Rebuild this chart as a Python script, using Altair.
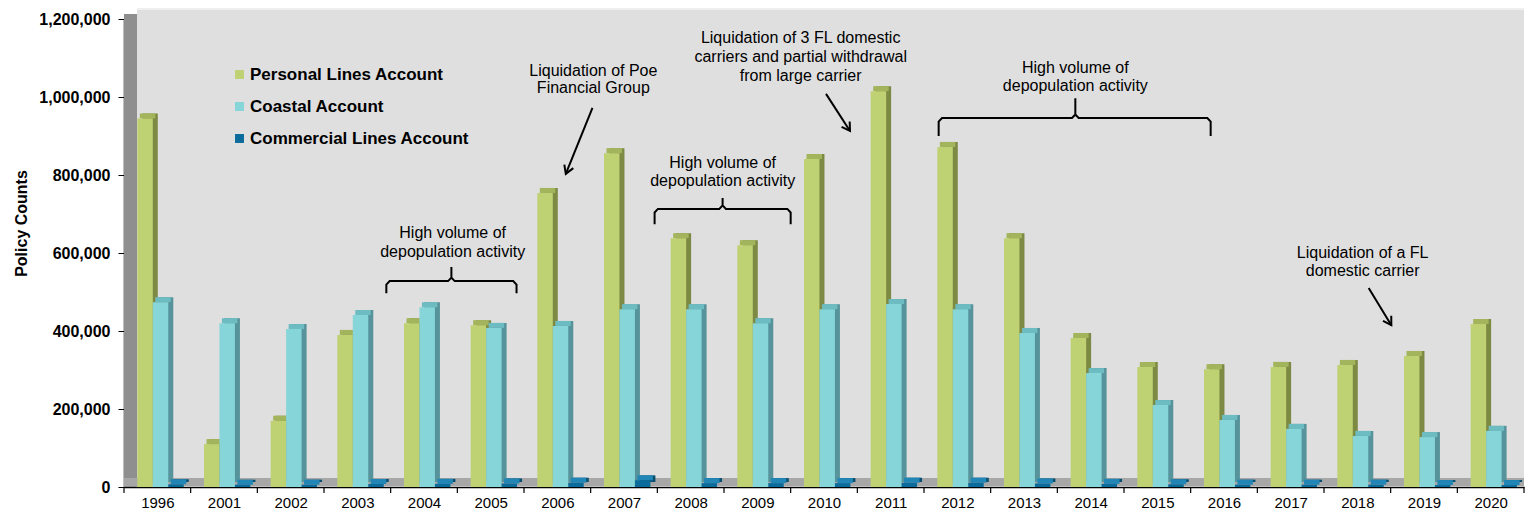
import json
import math
import altair as alt
import pandas as pd

FONT = "Liberation Sans"

# ---------------- data ----------------
years = ["1996", "2001", "2002", "2003", "2004", "2005", "2006", "2007", "2008", "2009",
         "2010", "2011", "2012", "2013", "2014", "2015", "2016", "2017", "2018", "2019", "2020"]
series = ["Personal Lines Account", "Coastal Account", "Commercial Lines Account"]
personal = [945000, 110000, 170000, 390000, 420000, 415000, 754000, 856000, 638000, 620000,
            841000, 1015000, 872000, 638000, 382000, 308000, 302000, 308000, 313000, 336000, 418000]
coastal = [474000, 420000, 405000, 441000, 461000, 408000, 413000, 456000, 456000, 420000,
           456000, 469000, 456000, 395000, 292000, 210000, 172000, 149000, 131000, 128000, 144000]
commercial = [7000, 6000, 6000, 8000, 8000, 9000, 11000, 17000, 10000, 10000,
              10000, 11000, 11000, 9000, 8000, 7000, 6000, 6000, 6000, 5000, 5000]
y_ticks = [0, 200000, 400000, 600000, 800000, 1000000, 1200000]

# annotation text lines: (x in category units, y value, text)
note_x = [4.93, 4.93, 7.04, 7.04, 8.98, 8.98, 10.15, 10.15, 10.15, 14.27, 14.27, 18.58, 18.58]
note_y = [651000, 603000, 1067000, 1023000, 831000, 785000, 1151000, 1103000, 1054000,
          1074000, 1028000, 600000, 554000]
note_text = ["High volume of", "depopulation activity",
             "Liquidation of Poe", "Financial Group",
             "High volume of", "depopulation activity",
             "Liquidation of 3 FL domestic", "carriers and partial withdrawal", "from large carrier",
             "High volume of", "depopulation activity",
             "Liquidation of a FL", "domestic carrier"]

# braces: left, centre, right (category units), line level, hook end, tip
brace_left = [3.935, 7.959, 12.22]
brace_center = [4.911, 8.979, 14.27]
brace_right = [5.888, 10.0, 16.30]
brace_line = [528000, 713000, 946000]
brace_hook = [497000, 674000, 900000]
brace_tip = [564000, 741000, 997000]

# arrows: start and end points
arrow_x0 = [7.027, 10.53, 18.67]
arrow_y0 = [972000, 1008000, 510000]
arrow_x1 = [6.627, 10.89, 19.01]
arrow_y1 = [803000, 913000, 415000]

# ---------------- styling ----------------
front_colors = ["#bfd273", "#85d5d9", "#0b6c9c"]
side_colors = ["#7d8a44", "#56939a", "#064d70"]
top_colors = ["#a3b55c", "#6dbcc1", "#2186b5"]

W, H = 1400, 468
N = len(years)
YMAX = 1200000
BW = 0.232      # bar width in category units
G0 = 0.20       # left of group inside category

rows = []
for k, vals in enumerate([personal, coastal, commercial]):
    for i, v in enumerate(vals):
        rows.append({"i": i, "k": k, "year": years[i], "series": series[k], "value": v,
                     "side": side_colors[k], "top": top_colors[k]})
df = pd.DataFrame(rows)

xscale = alt.Scale(domain=[0, N], nice=False, zero=False)
yscale = alt.Scale(domain=[0, YMAX], nice=False)

label_expr = json.dumps(years) + "[floor(datum.value)]"

xaxis = alt.Axis(values=[i + 0.5 for i in range(N)], labelExpr=label_expr,
                 ticks=False, grid=False, title=None, domainColor="#000000",
                 domainWidth=1.5, labelFont=FONT, labelFontSize=15,
                 labelColor="#000000", labelPadding=8, labelOverlap=False,
                 labelFlush=False)
yaxis = alt.Axis(values=y_ticks, format=",d", grid=False, title="Policy Counts",
                 titleFont=FONT, titleFontSize=16, titleFontWeight="bold",
                 titleColor="#000000", titlePadding=9, titleY=204,
                 labelFont=FONT, labelFontSize=16, labelFontWeight="bold",
                 labelColor="#000000", labelPadding=8, tickSize=6,
                 tickColor="#000000", domainColor="#000000", domainWidth=1.5)


def X(field):
    return alt.X(field, scale=xscale, axis=xaxis)


def Y(field):
    return alt.Y(field, scale=yscale, axis=yaxis)


base = alt.Chart(df).transform_calculate(
    x0=f"datum.i + {G0} + datum.k * {BW}",
    x1=f"datum.i + {G0} + datum.k * {BW} + {BW}",
)

one = pd.DataFrame({"a": [0]})
panel = alt.Chart(one).mark_rect(color="#dfdfdf").encode(
    x=alt.value(13), x2=alt.value(W), y=alt.value(-11), y2=alt.value(H - 8))
panel_edge = alt.Chart(one).mark_rule(color="#f4f4f4", strokeWidth=1.5).encode(
    x=alt.value(13), x2=alt.value(W), y=alt.value(-10))
wall = alt.Chart(one).mark_rect(color="#8f8f8f").encode(
    x=alt.value(0), x2=alt.value(13), y=alt.value(-5), y2=alt.value(H))
floor = alt.Chart(one).mark_rect(color="#a7a7a7").encode(
    x=alt.value(0), x2=alt.value(W), y=alt.value(H - 9), y2=alt.value(H - 1))

side = base.mark_rect(xOffset=5, x2Offset=5, yOffset=-5, y2Offset=-5).encode(
    x=X("x0:Q"), x2="x1:Q", y=Y("value:Q"), y2=alt.datum(0),
    color=alt.Color("side:N", scale=None),
)
top = base.mark_rect(xOffset=2.5, x2Offset=2.5, yOffset=-5, y2Offset=0).encode(
    x=X("x0:Q"), x2="x1:Q", y=Y("value:Q"), y2="value:Q",
    color=alt.Color("top:N", scale=None),
)
front = base.mark_rect().encode(
    x=X("x0:Q"), x2="x1:Q", y=Y("value:Q"), y2=alt.datum(0),
    color=alt.Color("series:N", scale=alt.Scale(domain=series, range=front_colors),
                    legend=alt.Legend(title=None, orient="none", legendX=107, legendY=47,
                                      symbolType="square", symbolSize=80,
                                      symbolStrokeWidth=0, labelFont=FONT,
                                      labelFontSize=17, labelFontWeight="bold",
                                      labelColor="#000000", rowPadding=14,
                                      labelOffset=2, labelLimit=400)),
)

ticks_df = pd.DataFrame({"b": list(range(N + 1))})
xticks = alt.Chart(ticks_df).mark_rule(color="#000000", strokeWidth=1.2).encode(
    x=X("b:Q"), y=alt.value(H), y2=alt.value(H + 6))

notes = pd.DataFrame({"ax": note_x, "ay": note_y, "t": note_text})
note_layer = alt.Chart(notes).mark_text(font=FONT, fontSize=16, color="#000000",
                                        align="center", baseline="middle").encode(
    x=X("ax:Q"), y=Y("ay:Q"), text="t:N")

brows = []
dx, dy = 0.05, 9000
for b in range(len(brace_left)):
    L, C, R = brace_left[b], brace_center[b], brace_right[b]
    yl, yh, yt = brace_line[b], brace_hook[b], brace_tip[b]
    pts = [(L, yh), (L, yl - dy), (L + dx, yl), (C - dx, yl), (C, yl + dy), (C, yt),
           (C, yl + dy), (C + dx, yl), (R - dx, yl), (R, yl - dy), (R, yh)]
    for o, (px, py) in enumerate(pts):
        brows.append({"bid": b, "o": o, "bx": px, "by": py})
braces = alt.Chart(pd.DataFrame(brows)).mark_line(color="#000000", strokeWidth=2).encode(
    x=X("bx:Q"), y=Y("by:Q"), detail="bid:N", order="o:Q")

arr = pd.DataFrame({"x0": arrow_x0, "y0": arrow_y0, "x1": arrow_x1, "y1": arrow_y1})
arr["ang"] = [
    math.degrees(math.atan2(-(x1 - x0) * W / N, -(y1 - y0) * H / YMAX)) % 360
    for x0, y0, x1, y1 in zip(arrow_x0, arrow_y0, arrow_x1, arrow_y1)
]
shafts = alt.Chart(arr).mark_rule(color="#000000", strokeWidth=2).encode(
    x=X("x0:Q"), x2="x1:Q", y=Y("y0:Q"), y2="y1:Q")
heads = alt.Chart(arr).mark_point(shape="M-0.6,-1L0,0L0.6,-1", filled=False,
                                  color="#000000", strokeWidth=2, size=260,
                                  opacity=1).encode(
    x=X("x1:Q"), y=Y("y1:Q"), angle=alt.Angle("ang:Q", scale=None))

chart = alt.layer(
    panel, panel_edge, wall, floor, side, top, front, xticks,
    note_layer, braces, shafts, heads,
).properties(
    width=W, height=H,
    padding={"left": 5, "top": 0, "right": 0, "bottom": 0},
    background="#ffffff",
).configure_view(stroke=None)

chart.save("out.html", embed_options={"renderer": "svg", "actions": False})
